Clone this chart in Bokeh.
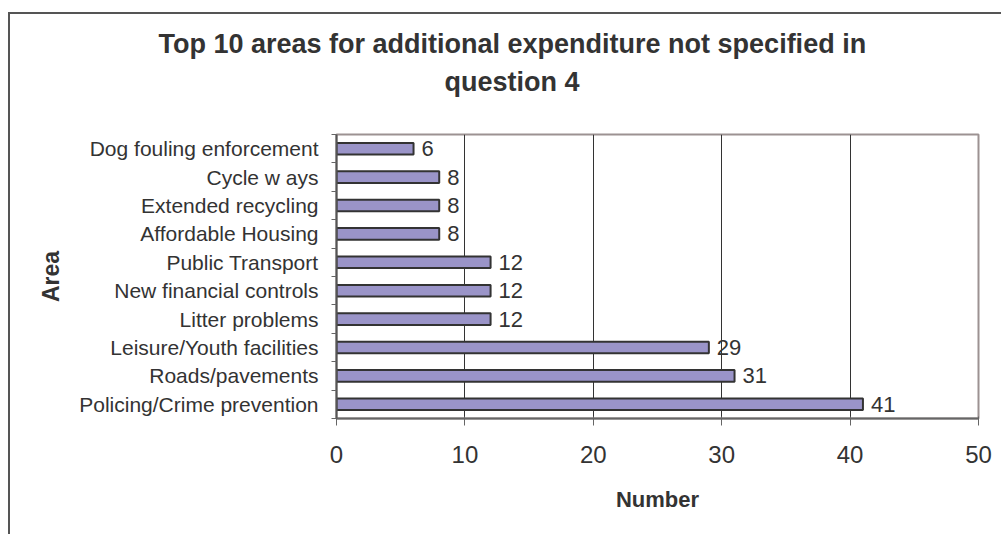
from bokeh.plotting import figure
from bokeh.models import Range1d, FixedTicker, Title, ColumnDataSource
from bokeh.core.properties import value
from bokeh.embed import file_html
from bokeh.resources import INLINE

# ---- data (bottom to top) ----
categories = [
    "Policing/Crime prevention",
    "Roads/pavements",
    "Leisure/Youth facilities",
    "Litter problems",
    "New financial controls",
    "Public Transport",
    "Affordable Housing",
    "Extended recycling",
    "Cycle w ays",
    "Dog fouling enforcement",
]
counts = [41, 31, 29, 12, 12, 12, 8, 8, 8, 6]
x_ticks = [0, 10, 20, 30, 40, 50]
title_line1 = "Top 10 areas for additional expenditure not specified in"
title_line2 = "question 4"
x_title = "Number"
y_title = "Area"

FONT = "Liberation Sans"
TXT = "#333333"

positions = list(range(len(categories)))
src = ColumnDataSource(dict(
    y=positions,
    v=counts,
    lbl=[str(c) for c in counts],
))

p = figure(
    frame_width=642, frame_height=284,
    x_range=Range1d(0, 50), y_range=Range1d(-0.5, len(categories) - 0.5),
    output_backend="svg", toolbar_location=None,
    min_border_left=326, min_border_right=23,
    min_border_top=120, min_border_bottom=116,
    x_axis_label=x_title, y_axis_label=y_title,
)
p.styles = {"border-left": "2px solid #555555", "border-top": "2px solid #555555",
            "margin-top": "12px", "margin-left": "8px"}
p.background_fill_color = "white"
p.border_fill_color = "white"
p.outline_line_color = "#9C9292"
p.outline_line_width = 2

# bars
p.hbar(y="y", left=0, right="v", height=0.41, source=src,
       fill_color="#9A94C8", line_color="#333333", line_width=2)
# value labels
p.text(x="v", y="y", text="lbl", source=src, x_offset=8,
       text_baseline="middle", text_align="left",
       text_font=value(FONT), text_font_size="22px", text_color=TXT)

# grid
p.ygrid.visible = False
p.xgrid.ticker = FixedTicker(ticks=x_ticks)
p.xgrid.grid_line_color = "#333333"
p.xgrid.grid_line_width = 1

# x axis
xa = p.xaxis[0]
xa.ticker = FixedTicker(ticks=x_ticks)
xa.axis_line_color = "#666666"
xa.axis_line_width = 2
xa.major_tick_line_color = "#666666"
xa.major_tick_line_width = 1
xa.major_tick_in = 2
xa.major_tick_out = 7
xa.minor_tick_line_color = None
xa.major_label_standoff = 20
xa.major_label_text_font = FONT
xa.major_label_text_font_size = "24px"
xa.major_label_text_color = TXT
xa.axis_label_text_font = FONT
xa.axis_label_text_font_size = "22px"
xa.axis_label_text_font_style = "bold"
xa.axis_label_text_color = TXT
xa.axis_label_standoff = 21

# y axis: labels at centres, ticks at boundaries
ya = p.yaxis[0]
ya.ticker = FixedTicker(ticks=positions,
                        minor_ticks=[i - 0.5 for i in range(len(categories) + 1)])
ya.major_label_overrides = {i: c for i, c in enumerate(categories)}
ya.axis_line_color = "#555555"
ya.axis_line_width = 2
ya.major_tick_line_color = None
ya.major_tick_in = 0
ya.major_tick_out = 0
ya.minor_tick_line_color = "#666666"
ya.minor_tick_line_width = 1
ya.minor_tick_in = 0
ya.minor_tick_out = 5
ya.major_label_standoff = 13
ya.major_label_text_font = FONT
ya.major_label_text_font_size = "21px"
ya.major_label_text_color = TXT
ya.axis_label_text_font = FONT
ya.axis_label_text_font_size = "23px"
ya.axis_label_text_font_style = "bold"
ya.axis_label_text_color = TXT
ya.axis_label_standoff = 12

# titles: p.title is outermost; added titles stack outward from the frame
p.title.text = title_line1
p.title.align = "left"
p.title.offset = -178
p.title.text_font = FONT
p.title.text_font_size = "27px"
p.title.text_font_style = "bold"
p.title.text_color = TXT
p.title.standoff = 6

spacer = Title(text=" ", text_font_size="10px", standoff=22)
p.add_layout(spacer, "above")
t2 = Title(text=title_line2, align="left", offset=108, text_font=FONT,
           text_font_size="27px", text_font_style="bold", text_color=TXT,
           standoff=6)
p.add_layout(t2, "above")

open("out.html", "w").write(file_html(p, INLINE))
